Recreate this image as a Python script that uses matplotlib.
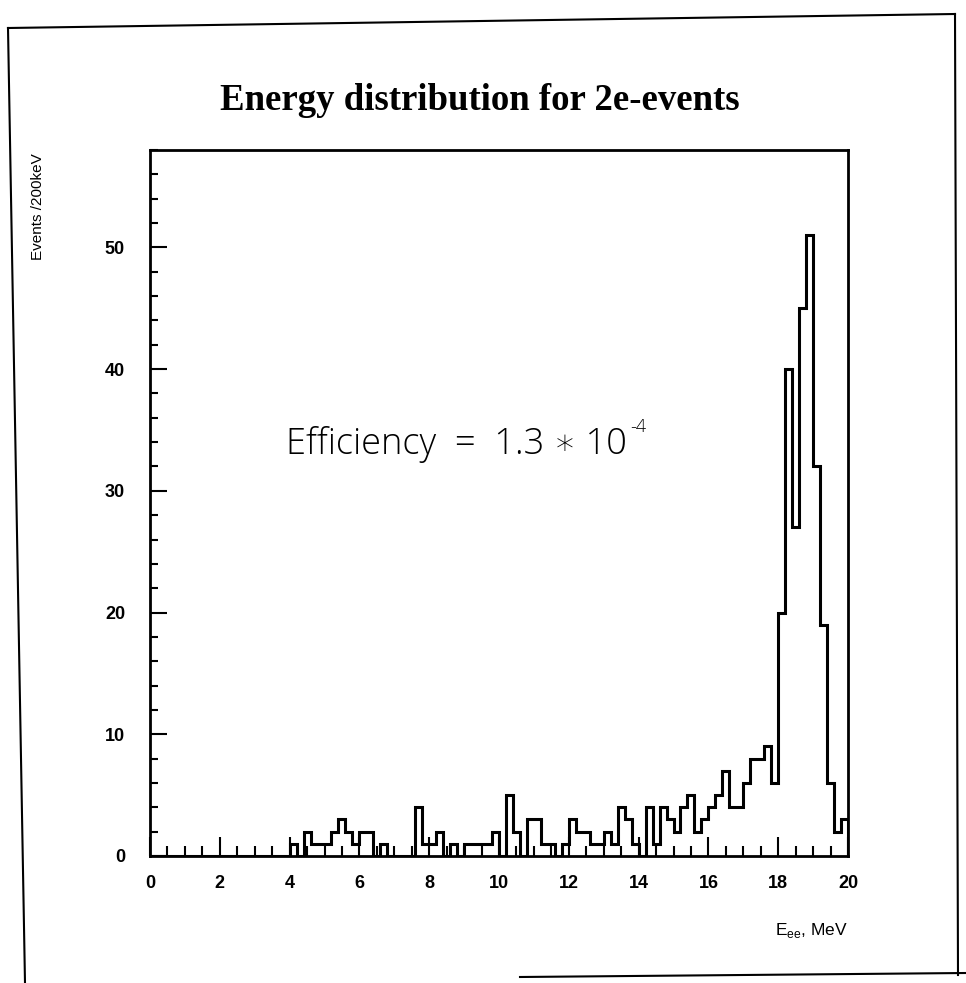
import numpy as np
from matplotlib import pyplot as plt
from matplotlib.lines import Line2D
from matplotlib.ticker import MultipleLocator

def plot_params():
    plt.rc('font', family=['Liberation Sans', 'DejaVu Sans'], size=12)
    plt.rc('xtick', labelsize=13)
    plt.rc('ytick', labelsize=13)
    plt.rc('axes', linewidth=2.0)
plot_params()

# energy bins, 200 keV wide, 0-20 MeV
bin_edges = np.arange(0, 20.0001, 0.2)
counts = [0]*20 + [
    1, 0, 2, 1, 1, 1, 2, 3, 2, 1,      # 4.0 - 6.0
    2, 2, 0, 1, 0, 0, 0, 0, 4, 1,      # 6.0 - 8.0
    1, 2, 0, 1, 0, 1, 1, 1, 1, 2,      # 8.0 - 10.0
    0, 5, 2, 0, 3, 3, 1, 1, 0, 1,      # 10.0 - 12.0
    3, 2, 2, 1, 1, 2, 1, 4, 3, 1,      # 12.0 - 14.0
    0, 4, 1, 4, 3, 2, 4, 5, 2, 3,      # 14.0 - 16.0
    4, 5, 7, 4, 4, 6, 8, 8, 9, 6,      # 16.0 - 18.0
    20, 40, 27, 45, 51, 32, 19, 6, 2, 3,  # 18.0 - 20.0
]

title = 'Energy distribution for 2e-events'
ylabel = 'Events /200keV'
xlabel = r'E$_{\mathregular{ee}}$, MeV'
eff_text = 'Efficiency  =  1.3 \u2217 10'
eff_exp = '-4'

W, H = 966, 983
fig = plt.figure(figsize=(W/100, H/100), dpi=100)
ax = fig.add_axes([150/W, 1 - 856/H, 698/W, 706/H])

ax.stairs(counts, bin_edges, color='black', linewidth=2.2, baseline=0)
ax.set_xlim(0, 20)
ax.set_ylim(0, 58)

ax.xaxis.set_major_locator(MultipleLocator(2))
ax.xaxis.set_minor_locator(MultipleLocator(0.5))
ax.yaxis.set_major_locator(MultipleLocator(10))
ax.yaxis.set_minor_locator(MultipleLocator(2))
ax.tick_params(axis='both', which='both', direction='in', top=False, right=False, width=1.5)
ax.tick_params(axis='x', which='major', length=14, pad=14)
ax.tick_params(axis='x', which='minor', length=7)
ax.tick_params(axis='y', which='major', length=12, pad=18)
ax.tick_params(axis='y', which='minor', length=6)
for lab in ax.get_xticklabels() + ax.get_yticklabels():
    lab.set_fontweight('bold')

eff_font = ['Open Sans', 'DejaVu Sans']
t1 = ax.text(3.9, 33.8, eff_text, fontsize=26, family=eff_font,
             fontweight='light', va='center', ha='left')
ax.annotate(eff_exp, xy=(1.01, 0.72), xycoords=t1, fontsize=13,
            family=eff_font, fontweight='light', va='bottom', ha='left')

fig.text(480/W, 1 - 100/H, title, fontsize=26.5, family=['Liberation Serif'],
         fontweight='bold', ha='center', va='center')
fig.text(38/W, 1 - 153/H, ylabel, fontsize=11, rotation=90, ha='center', va='top')
fig.text(848/W, 1 - 930/H, xlabel, fontsize=12.5, ha='right', va='center')

# scanned page frame
frame = [((8, 25), (28, 983)), ((8, 955), (28, 14)),
         ((955, 958), (14, 975)), ((520, 966), (977, 973))]
for xs, ys in frame:
    fig.add_artist(Line2D([x/W for x in xs], [1 - y/H for y in ys],
                          transform=fig.transFigure, color='black', linewidth=1.5))

fig.savefig('out.png', dpi=100)
